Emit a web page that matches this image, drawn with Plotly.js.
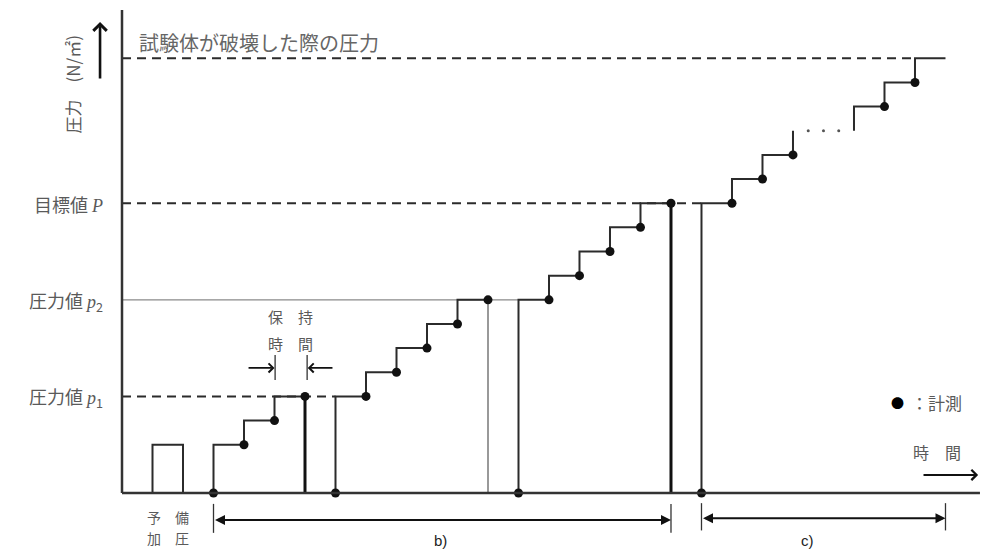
<!DOCTYPE html>
<html><head><meta charset="utf-8">
<script src="https://cdn.plot.ly/plotly-3.0.1.min.js"></script>
<style>html,body{margin:0;padding:0;background:#fff}#chart{width:982px;height:553px}</style>
</head><body><div id="chart"></div>
<script>
// ---- data (time in hold-periods, pressure in load steps) ----
const levelNames = ['圧力値 p1', '圧力値 p2', '目標値 P', '試験体が破壊した際の圧力'];
const levelP     = [4, 8, 12, 18];
const levelEndT  = [7, 13, 19, 26];

const preT = [1, 2, 2], preP = [0, 2, 0];                       // 予備加圧
const run1T = [3, 4, 5, 6],            run1P = [0, 2, 3, 4];
const run2T = [7, 8, 9, 10, 11, 12],   run2P = [0, 4, 5, 6, 7, 8];
const run3T = [13, 14, 15, 16, 17, 18], run3P = [0, 8, 9, 10, 11, 12];
const run4aT = [19, 20, 21, 22, 22],   run4aP = [0, 12, 13, 14, 15];
const run4bT = [24, 25, 26, 27],       run4bP = [15, 16, 17, 18];
const run4aMeasured = [1, 1, 1, 1, 0], run4bMeasured = [0, 1, 1, 0];
const gapT = [22.5, 23, 23.5], gapP = [15, 15, 15];              // "・・・"
const unloadT = [6, 12, 18], unloadP = [4, 8, 12];

// ---- build traces ----
const ink = '#2b2b2b';
const traces = [];
const levelStyles = [
  {color: ink, width: 2, dash: '9px,6px'},
  {color: '#8a8a8a', width: 1.3, dash: 'solid'},
  {color: ink, width: 2, dash: '9px,6px'},
  {color: ink, width: 2, dash: '9px,6px'}
];
levelP.forEach((p, i) => traces.push({
  x: [0, levelEndT[i]], y: [p, p], mode: 'lines', hoverinfo: 'skip',
  line: levelStyles[i]
}));
const stepLine = {color: ink, width: 2, shape: 'vh'};
[[preT, preP], [run1T, run1P], [run2T, run2P], [run3T, run3P], [run4aT, run4aP], [run4bT, run4bP]]
  .forEach(([x, y]) => traces.push({x, y, mode: 'lines', line: stepLine, hoverinfo: 'skip'}));
const unloadStyles = [{color: '#111', width: 3}, {color: '#777', width: 1.5}, {color: '#111', width: 3}];
unloadT.forEach((t, i) => traces.push({
  x: [t, t], y: [unloadP[i], 0], mode: 'lines', line: unloadStyles[i], hoverinfo: 'skip'
}));
// measurement points
const mx = [], my = [];
[[run1T, run1P], [run2T, run2P], [run3T, run3P]].forEach(([x, y]) => { mx.push(...x); my.push(...y); });
run4aT.forEach((t, i) => { if (run4aMeasured[i]) { mx.push(t); my.push(run4aP[i]); } });
run4bT.forEach((t, i) => { if (run4bMeasured[i]) { mx.push(t); my.push(run4bP[i]); } });
traces.push({x: mx, y: my, mode: 'markers', marker: {color: '#111', size: 9}, hoverinfo: 'skip'});
traces.push({x: gapT, y: gapP, mode: 'markers', marker: {color: '#555', size: 3}, hoverinfo: 'skip'});

// ---- layout ----
const jp = '"Noto Sans CJK JP", "Noto Sans", sans-serif';
const gray = '#5a5a5a';
const it = s => `<span style="font-family:'Liberation Serif',serif"><i>${s}</i></span>`;
const ann = (text, x, y, o = {}) => Object.assign({
  text, x, y, xref: 'x', yref: 'y', showarrow: false,
  font: {family: jp, size: 16, color: gray}
}, o);
const arrow = (x, y, ax, ay, o = {}) => Object.assign({
  text: '', x, y, ax, ay, xref: 'x', yref: 'y', axref: 'x', ayref: 'y',
  showarrow: true, arrowhead: 4, arrowsize: 1.1, arrowwidth: 1.6, arrowcolor: '#111', standoff: 0
}, o);
const seg = (x0, y0, x1, y1, w = 1.5, c = '#222') => ({
  type: 'line', xref: 'x', yref: 'y', x0, y0, x1, y1, line: {color: c, width: w}
});
const lab = {family: jp, size: 18, color: gray};

const layout = {
  width: 982, height: 553,
  margin: {l: 0, r: 0, t: 0, b: 0},
  paper_bgcolor: '#fff', plot_bgcolor: '#fff',
  showlegend: false,
  xaxis: {range: [-4, 28.197], visible: false, fixedrange: true},
  yaxis: {range: [-2.484, 20.414], visible: false, fixedrange: true},
  shapes: [
    seg(0, 0, 0, 20, 2.5, '#333'),          // vertical axis
    seg(0, 0, 28.13, 0, 2.5, '#333'),       // time axis
    seg(5.02, 4.68, 5.02, 5.71, 1.3, '#333'),
    seg(6.07, 4.68, 6.07, 5.71, 1.3, '#333'),
    seg(3, -0.45, 3, -1.65, 1.3, '#333'),
    seg(18, -0.45, 18, -1.65, 1.3, '#333'),
    seg(19, -0.42, 19, -1.55, 1.3, '#333'),
    seg(27, -0.42, 27, -1.55, 1.3, '#333')
  ],
  annotations: [
    ann(levelNames[3], 0.49, 18.67, {xanchor: 'left', font: {family: jp, size: 20, color: '#666'}}),
    ann('目標値 ' + it('P'), -0.55, 11.97, {xanchor: 'right', font: lab}),
    ann('圧力値 ' + it('p') + '<sub>2</sub>', -0.55, 7.95, {xanchor: 'right', font: lab}),
    ann('圧力値 ' + it('p') + '<sub>1</sub>', -0.55, 3.97, {xanchor: 'right', font: lab}),
    ann('圧力　(N/㎡)', -1.62, 16.9, {textangle: -90, font: {family: jp, size: 17, color: gray}}),
    ann('保　持', 5.54, 7.29, {font: {family: jp, size: 15, color: gray}}),
    ann('時　間', 5.54, 6.21, {font: {family: jp, size: 15, color: gray}}),
    ann('予　備', 1.5, -0.99, {font: {family: jp, size: 14, color: gray}}),
    ann('加　圧', 1.5, -1.86, {font: {family: jp, size: 14, color: gray}}),
    ann('b)', 10.43, -1.95, {font: {family: 'Liberation Sans, Arial', size: 15, color: '#222'}}),
    ann('c)', 22.46, -1.95, {font: {family: 'Liberation Sans, Arial', size: 15, color: '#222'}}),
    ann('●', 25.44, 3.73, {font: {family: jp, size: 13, color: '#000'}}),
    ann('：計測', 25.8, 3.73, {xanchor: 'left', font: {family: jp, size: 17, color: gray}}),
    ann('時　間', 26.72, 1.70, {font: {family: jp, size: 16, color: gray}}),
    arrow(-0.72, 19.5, -0.72, 17.1, {arrowwidth: 2.6, arrowsize: 1}),
    arrow(28.07, 0.75, 26.23, 0.75, {arrowwidth: 2, arrowsize: 1}),
    arrow(5.0, 5.18, 4.1, 5.18),
    arrow(6.09, 5.18, 6.95, 5.18),
    arrow(18, -1.12, 3, -1.12, {arrowhead: 2, arrowside: 'end+start', arrowwidth: 2, arrowsize: 1}),
    arrow(27, -1.05, 19, -1.05, {arrowhead: 2, arrowside: 'end+start', arrowwidth: 2, arrowsize: 1})
  ]
};

Plotly.newPlot('chart', traces, layout, {displayModeBar: false, staticPlot: true});
</script>
</body></html>
